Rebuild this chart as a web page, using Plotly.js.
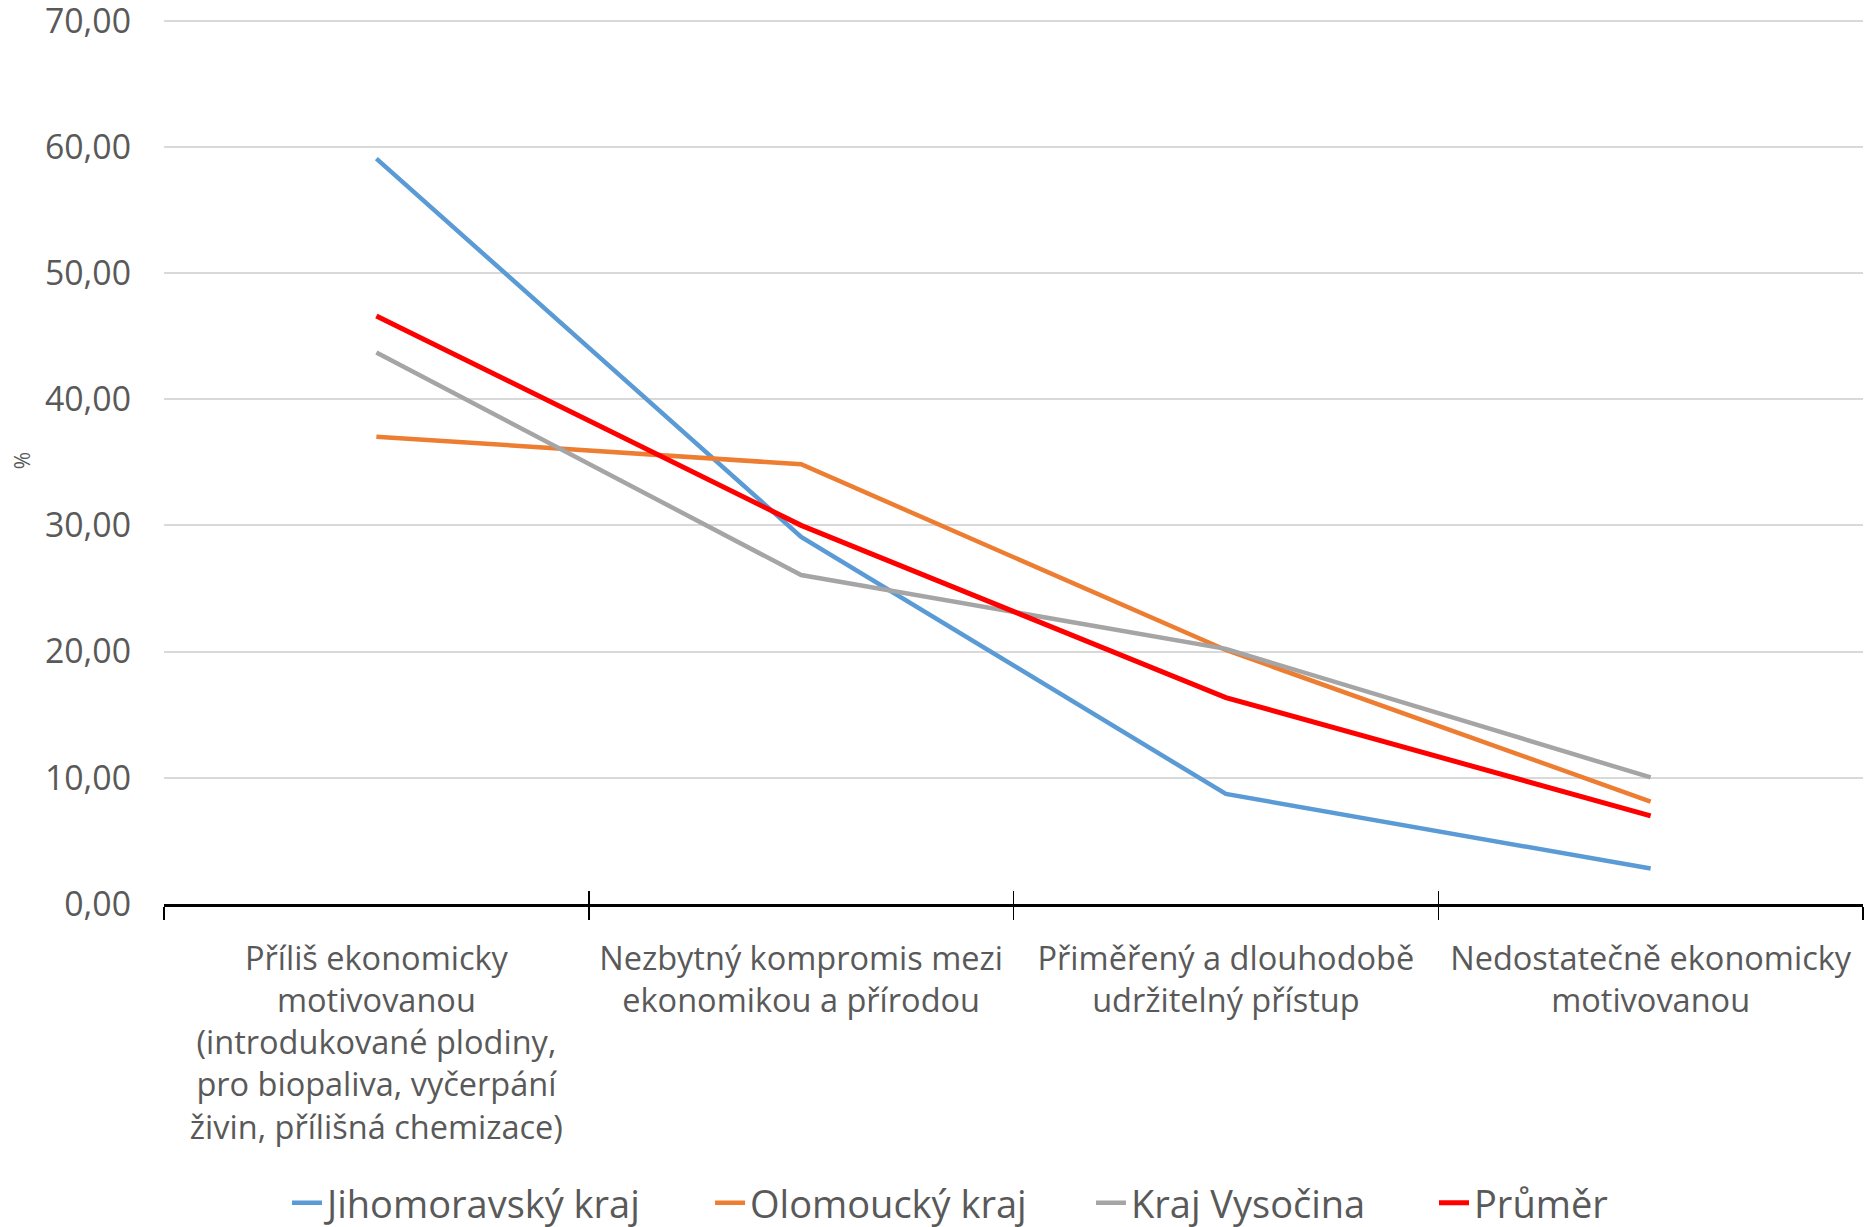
<!DOCTYPE html>
<html>
<head>
<meta charset="utf-8">
<script src="https://cdn.plot.ly/plotly-3.0.1.min.js"></script>
<style>html,body{margin:0;padding:0;background:#fff;}#chart{width:1867px;height:1227px;}</style>
</head>
<body>
<div id="chart"></div>
<script>
const categories = [
  "Příliš ekonomicky<br>motivovanou<br>(introdukované plodiny,<br>pro biopaliva, vyčerpání<br>živin, přílišná chemizace)",
  "Nezbytný kompromis mezi<br>ekonomikou a přírodou",
  "Přiměřený a dlouhodobě<br>udržitelný přístup",
  "Nedostatečně ekonomicky<br>motivovanou"
];
const seriesNames = ["Jihomoravský kraj", "Olomoucký kraj", "Kraj Vysočina", "Průměr"];
const jihomoravsky = [59.08, 29.10, 8.72, 2.81];
const olomoucky = [37.04, 34.85, 20.13, 8.12];
const vysocina = [43.71, 26.07, 20.22, 10.03];
const prumer = [46.61, 30.01, 16.36, 6.99];
const yTicks = [0, 10, 20, 30, 40, 50, 60, 70];

const colors = ["#5B9BD5", "#ED7D31", "#A5A5A5", "#FF0000"];
const widths = [4.5, 4.5, 4.5, 5];
const values = [jihomoravsky, olomoucky, vysocina, prumer];
const legendIds = ["legend", "legend2", "legend3", "legend4"];
const legendX = [0.0724, 0.3214, 0.5456, 0.7475];

const traces = values.map((v, i) => ({
  type: "scatter",
  mode: "lines",
  name: seriesNames[i],
  x: categories,
  y: v,
  line: {color: colors[i], width: widths[i]},
  legend: legendIds[i],
  hoverinfo: "skip"
}));

const boundaries = categories.map((c, i) => i - 0.5).concat([categories.length - 0.5]);

const font = "'Open Sans', 'Noto Sans', sans-serif";

const layout = {
  width: 1867,
  height: 1227,
  margin: {l: 164, r: 4, t: 17, b: 323},
  paper_bgcolor: "#ffffff",
  plot_bgcolor: "#ffffff",
  separators: ", ",
  showlegend: true,
  font: {family: font, color: "#595959"},
  xaxis: {
    type: "category",
    categoryarray: categories,
    range: [-0.5, categories.length - 0.5],
    tickson: "boundaries",
    ticks: "outside",
    ticklen: 13,
    tickwidth: 1.5,
    tickcolor: "#000",
    showline: true,
    linecolor: "#000",
    linewidth: 2.5,
    showgrid: false,
    zeroline: false,
    tickfont: {family: font, size: 32.5, color: "#595959"},
    ticklabelstandoff: 24,
    automargin: false,
    fixedrange: true
  },
  xaxis2: {
    overlaying: "x",
    anchor: "y",
    side: "bottom",
    type: "linear",
    range: [-0.5, categories.length - 0.5],
    tickmode: "array",
    tickvals: boundaries,
    ticks: "inside",
    ticklen: 13,
    tickwidth: 1.5,
    tickcolor: "#000",
    showticklabels: false,
    showgrid: false,
    zeroline: false,
    showline: false
  },
  yaxis: {
    range: [0, 70.3],
    tickmode: "array",
    tickvals: yTicks,
    tickformat: ".2f",
    showgrid: true,
    gridcolor: "#D9D9D9",
    gridwidth: 2,
    zeroline: false,
    showline: false,
    ticks: "",
    tickfont: {family: font, size: 33.8, color: "#595959"},
    ticklabelstandoff: 32,
    ticklabeloverflow: "allow",
    title: {text: "%", font: {family: font, size: 21, color: "#595959"}, standoff: 8},
    automargin: false,
    fixedrange: true
  }
};

legendIds.forEach((id, i) => {
  layout[id] = {
    orientation: "h",
    x: legendX[i],
    xanchor: "left",
    xref: "paper",
    yref: "container",
    y: 0.0195,
    yanchor: "middle",
    font: {family: font, size: 38, color: "#595959"},
    bgcolor: "rgba(0,0,0,0)"
  };
});

traces.push({
  type: "scatter", mode: "lines", x: [boundaries[0], boundaries[boundaries.length-1]], y: [null, null],
  xaxis: "x2", yaxis: "y", showlegend: false, hoverinfo: "skip"
});

Plotly.newPlot("chart", traces, layout, {displayModeBar: false, staticPlot: true});
</script>
</body>
</html>
